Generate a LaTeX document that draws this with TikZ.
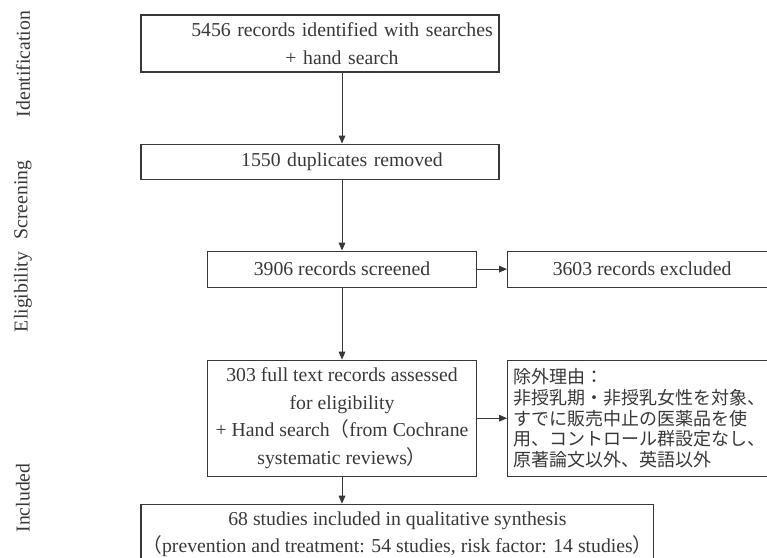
\documentclass[tikz,border=0pt]{standalone}
\usepackage{fontspec}
\setmainfont{Liberation Serif}
\newfontfamily\jpfont{Noto Sans CJK JP}
\usepackage{tikz}
\usetikzlibrary{arrows.meta, positioning}
\definecolor{ink}{gray}{0.22}

\begin{document}
\begin{tikzpicture}[
  x=0.75pt, y=-0.75pt,
  node distance=53.25pt and 22.5pt,
  box/.style={rectangle, draw=ink, line width=0.8pt, text=ink, align=center,
              inner xsep=1pt, inner ysep=2pt, font=\fontsize{14.8}{20.6}\selectfont},
  widebox/.style={box, text width=266.5pt},
  note/.style={box, align=left, text width=192.75pt, inner xsep=4.5pt,
               font=\jpfont\fontsize{13.5}{15.4}\selectfont},
  stage/.style={rotate=90, text=ink, font=\fontsize{14.8}{18}\selectfont},
  arr/.style={-{Triangle[length=6pt, width=5pt]}, draw=ink, line width=0.7pt},
]
\useasboundingbox (0,0) rectangle (767,557);

\node[stage] (ident) at (23,64) {Identification};
\node[stage] (screen) at (23,200) {Screening};
\node[stage] (elig) at (23,292) {Eligibility};
\node[stage] (incl) at (23,498) {Included};

\node[widebox, minimum height=42.75pt] (records) at (320,43.5)
  {\hspace*{33pt}5456 records identified with searches\\\hspace*{33pt}+ hand search};
\node[widebox, minimum height=26.25pt, below=of records] (dupes)
  {\hspace*{33pt}1550 duplicates removed};
\node[box, minimum width=201.75pt, minimum height=27pt, below=of dupes, xshift=16.5pt] (screened)
  {3906 records screened};
\node[box, minimum width=201.75pt, minimum height=27pt, right=of screened] (excluded)
  {3603 records excluded};
\node[box, minimum width=201.75pt, minimum height=87pt, below=54pt of screened] (fulltext)
  {303 full text records assessed\\for eligibility\\+ Hand search{\jpfont（}from Cochrane\\systematic reviews{\jpfont）}};
\node[note, minimum height=87pt, right=of fulltext] (reasons)
  {除外理由：\\非授乳期・非授乳女性を対象、\\すでに販売中止の医薬品を使\\用、コントロール群設定なし、\\原著論文以外、英語以外};
\node[box, minimum height=45pt, anchor=north west, yshift=-20.25pt]
  (included) at (records.west |- fulltext.south)
  {68 studies included in qualitative synthesis\\{\jpfont（}prevention and treatment: 54 studies, risk factor: 14 studies{\jpfont）}};

\draw[arr] (records.south -| screened) -- (dupes.north -| screened);
\draw[arr] (dupes.south -| screened) -- (screened);
\draw[arr] (screened) -- (excluded);
\draw[arr] (screened) -- (fulltext);
\draw[arr] (fulltext) -- (reasons);
\draw[arr] (fulltext) -- (fulltext |- included.north);
\end{tikzpicture}
\end{document}
